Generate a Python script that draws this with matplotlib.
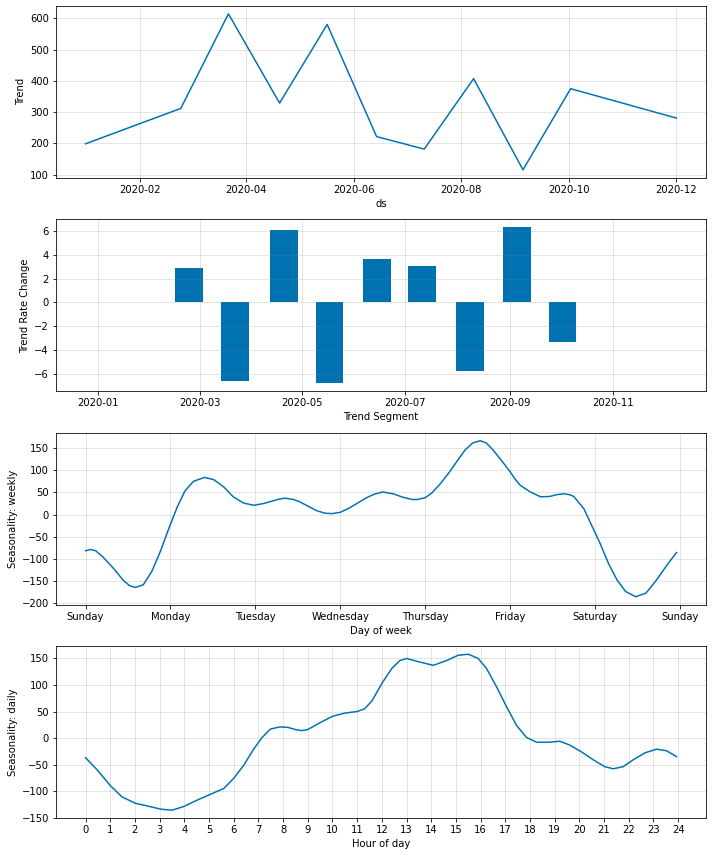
import numpy as np
import matplotlib
matplotlib.use("Agg")
import matplotlib.pyplot as plt
import matplotlib.dates as mdates

# trend (vertices of the piecewise linear trend)
trend_dates = np.array(['2020-01-01', '2020-02-24', '2020-03-22', '2020-04-20', '2020-05-17',
                        '2020-06-14', '2020-07-11', '2020-08-08', '2020-09-05', '2020-10-02',
                        '2020-12-01'], dtype='datetime64[D]')
trend_vals = [199, 312, 614, 329, 580, 222, 182, 407, 116, 375, 281]

# trend rate change per changepoint
cp_dates = trend_dates[1:-1]
cp_vals = [2.88, -6.62, 6.05, -6.79, 3.62, 3.03, -5.78, 6.31, -3.34]

# weekly seasonality (day 0 = Sunday)
week_days = [0.00, 0.06, 0.12, 0.21, 0.33, 0.45, 0.52, 0.585, 0.68, 0.78, 0.88, 0.98,
             1.08, 1.17, 1.27, 1.40, 1.51, 1.63, 1.74, 1.86, 1.98,
             2.10, 2.28, 2.35, 2.45, 2.52, 2.62, 2.72, 2.82, 2.90,
             3.00, 3.10, 3.24, 3.31, 3.40, 3.50, 3.62, 3.74, 3.85, 3.91,
             4.00, 4.08, 4.18, 4.29, 4.38, 4.47, 4.56, 4.65, 4.72, 4.80, 4.90,
             5.00, 5.06, 5.12, 5.24, 5.36, 5.47, 5.55, 5.63, 5.70, 5.75, 5.87, 5.96,
             6.06, 6.16, 6.26, 6.36, 6.48, 6.60, 6.71, 6.85, 6.96]
week_vals = [-82, -79, -82, -97, -122, -150, -161, -165, -159, -129, -84, -32,
             17, 53, 75, 84, 79, 62, 40, 26, 21,
             25, 35, 37, 34, 29, 19, 9, 3, 2,
             5, 14, 30, 38, 46, 51, 47, 39, 34, 34,
             38, 49, 70, 97, 122, 146, 162, 167, 162, 146, 122,
             97, 80, 66, 51, 40, 41, 45, 47, 45, 41, 13, -24,
             -65, -111, -148, -174, -186, -178, -152, -114, -86]
week_labels = ['Sunday', 'Monday', 'Tuesday', 'Wednesday', 'Thursday', 'Friday', 'Saturday', 'Sunday']

# daily seasonality
hours = [0, 0.47, 1.01, 1.48, 2.02, 2.5, 3.04, 3.5, 3.98, 4.52, 5.06, 5.6, 6.0, 6.41, 6.82,
         7.15, 7.49, 7.87, 8.2, 8.5, 8.75, 9.0, 9.5, 10, 10.5, 11, 11.3, 11.6, 12, 12.4,
         12.73, 13, 13.47, 14.08, 14.62, 15.09, 15.5, 15.9, 16.24, 16.64, 17.05, 17.45,
         17.86, 18.27, 18.74, 19.2, 19.6, 20.08, 20.56, 21.03, 21.37, 21.77, 22.18, 22.65,
         23.12, 23.53, 23.93]
day_vals = [-37, -60, -90, -111, -123, -128, -134, -136, -129, -117, -106, -95, -76, -51, -20,
            1, 17, 21, 20, 16, 14, 16, 29, 41, 47, 50, 55, 70, 103, 131,
            146, 150, 144, 137, 146, 156, 158, 150, 131, 97, 59, 24,
            1, -8, -8, -6, -13, -26, -41, -54, -58, -54, -41, -28,
            -21, -24, -35]

c = '#0072B2'
fig, axes = plt.subplots(4, 1, figsize=(712 / 72, 856 / 72), dpi=72)
fig.subplots_adjust(left=56 / 712, right=706 / 712, top=1 - 6 / 856, bottom=1 - 818 / 856, hspace=0.244)

def style(ax):
    ax.grid(True, which='major', c='gray', ls='-', lw=1, alpha=0.2)

# trend
ax = axes[0]
ax.plot(trend_dates, trend_vals, ls='-', c=c)
ax.xaxis.set_major_locator(mdates.MonthLocator(bymonth=[2, 4, 6, 8, 10, 12]))
ax.xaxis.set_major_formatter(mdates.DateFormatter('%Y-%m'))
ax.set_xlabel('ds')
ax.set_ylabel('Trend')
style(ax)

# trend rate change
ax = axes[1]
ax.bar(cp_dates, cp_vals, width=16.5, color=c)
pad = np.timedelta64(25, 'D')
ax.set_xlim(trend_dates[0] - pad, trend_dates[-1] + pad)
ax.xaxis.set_major_locator(mdates.MonthLocator(bymonth=[1, 3, 5, 7, 9, 11]))
ax.xaxis.set_major_formatter(mdates.DateFormatter('%Y-%m'))
ax.set_xlabel('Trend Segment')
ax.set_ylabel('Trend Rate Change')
style(ax)

# weekly
ax = axes[2]
ax.plot(week_days, week_vals, ls='-', c=c, solid_joinstyle='round')
ax.set_xticks(range(len(week_labels)))
ax.set_xticklabels(week_labels)
ax.set_xlabel('Day of week')
ax.set_ylabel('Seasonality: weekly')
style(ax)

# daily
ax = axes[3]
ax.plot(hours, day_vals, ls='-', c=c, solid_joinstyle='round')
ax.set_xticks(range(25))
ax.set_xlabel('Hour of day')
ax.set_ylabel('Seasonality: daily')
style(ax)

fig.savefig('out.png', dpi=72, facecolor='white')
